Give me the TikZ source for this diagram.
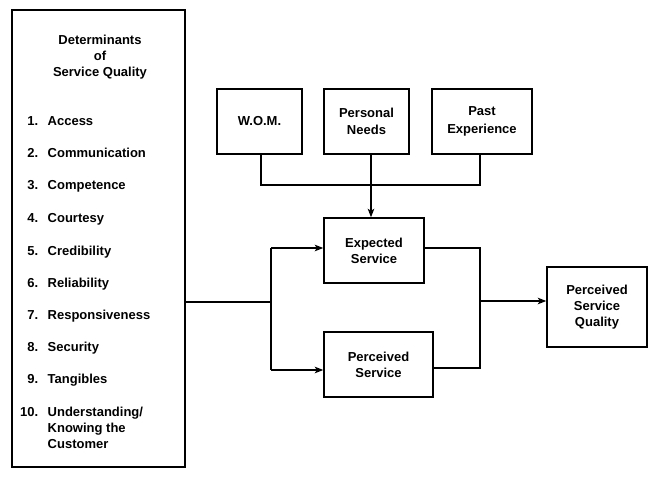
\documentclass[tikz,border=0pt]{standalone}
\usepackage{fontspec}
\setmainfont{Liberation Sans}
\usetikzlibrary{arrows.meta}
\begin{document}
\begin{tikzpicture}[x=1bp,y=-1bp, line width=1.4bp,
  every node/.style={font=\fontsize{13bp}{16bp}\selectfont\bfseries, inner sep=0pt},
  box/.style={draw, align=center},
  topbox/.style={box, font=\fontsize{13bp}{17.5bp}\selectfont\bfseries},
  arr/.style={-{Stealth[length=8.5bp,width=6.5bp,inset=2bp]}},
  lbl/.style={anchor=base west},
  num/.style={anchor=base east}]
\useasboundingbox (0,0) rectangle (648,477);

% left box
\node[draw, minimum width=173bp, minimum height=457bp] (det) at (98.5,238.5) {};
\node[align=center] (head) at (100,57) {Determinants\\of\\Service Quality};
\node[num] (n1) at (39,126) {1.};   \node[lbl] (t1) at (47,126) {Access};
\node[num] (n2) at (39,157.5) {2.}; \node[lbl] (t2) at (47,157.5) {Communication};
\node[num] (n3) at (39,189.5) {3.}; \node[lbl] (t3) at (47,189.5) {Competence};
\node[num] (n4) at (39,222.5) {4.}; \node[lbl] (t4) at (47,222.5) {Courtesy};
\node[num] (n5) at (39,255.5) {5.}; \node[lbl] (t5) at (47,255.5) {Credibility};
\node[num] (n6) at (39,287.5) {6.}; \node[lbl] (t6) at (47,287.5) {Reliability};
\node[num] (n7) at (39,319.5) {7.}; \node[lbl] (t7) at (47,319.5) {Responsiveness};
\node[num] (n8) at (39,351.5) {8.}; \node[lbl] (t8) at (47,351.5) {Security};
\node[num] (n9) at (39,383.5) {9.}; \node[lbl] (t9) at (47,383.5) {Tangibles};
\node[num] (n10) at (39,416.5) {10.}; \node[lbl] (t10a) at (47,416.5) {Understanding/};
\node[lbl] (t10b) at (47,432) {Knowing the};
\node[lbl] (t10c) at (47,448) {Customer};

% top boxes
\node[topbox, minimum width=85bp, minimum height=65bp] (wom) at (259.5,121.5) {W.O.M.};
\node[topbox, minimum width=85bp, minimum height=65bp] (pn) at (366.5,121.5) {Personal\\Needs};
\node[topbox, minimum width=100bp, minimum height=65bp] (pe) at (482,121.5) {Past\\Experience};

% middle boxes
\node[box, minimum width=100bp, minimum height=65bp] (exp) at (374,250.5) {Expected\\Service};
\node[box, minimum width=109bp, minimum height=65bp] (per) at (378.5,364.5) {Perceived\\Service};
\node[box, minimum width=100bp, minimum height=80bp] (psq) at (597,307) {Perceived\\Service\\Quality};

% connectors top
\coordinate (cw) at (261,185);
\coordinate (cp) at (480,185);
\coordinate (cn) at (371,185);
\draw (wom.south -| cw) -- (cw) -- (cp) -- (pe.south -| cp);
\draw[arr] (pn.south -| cn) -- (exp.north -| cn);

% connectors left
\coordinate (jl) at (271,302);
\coordinate (ja) at (271,248);
\coordinate (jb) at (271,370);
\draw (det.east |- jl) -- (jl);
\draw (ja) -- (jb);
\draw[arr] (ja) -- (exp.west |- ja);
\draw[arr] (jb) -- (per.west |- jb);

% connectors right
\coordinate (ra) at (480,248);
\coordinate (rb) at (480,368);
\coordinate (rm) at (480,301);
\draw (exp.east |- ra) -- (ra) -- (rb) -- (per.east |- rb);
\draw[arr] (rm) -- (psq.west |- rm);
\end{tikzpicture}
\end{document}
